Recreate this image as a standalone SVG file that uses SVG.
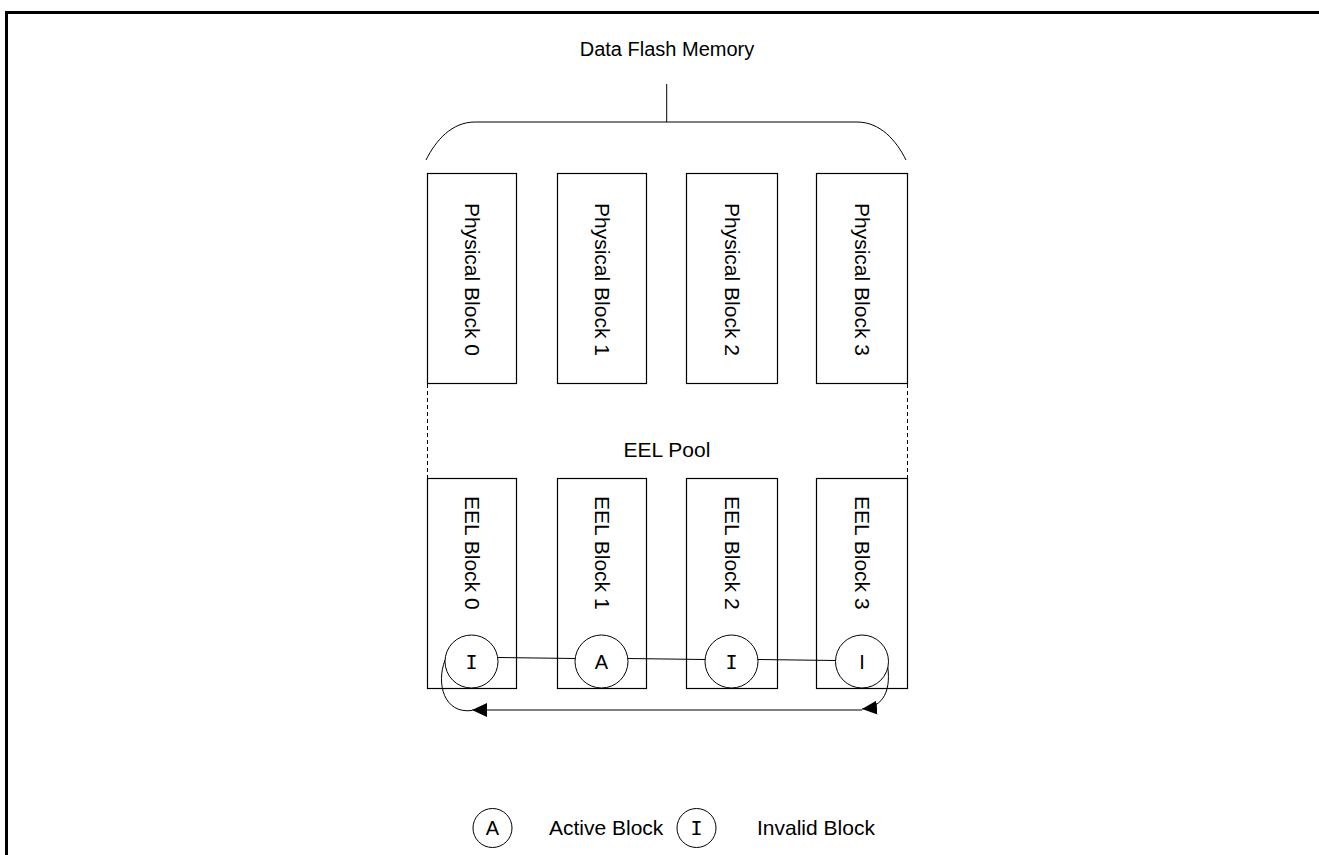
<svg xmlns="http://www.w3.org/2000/svg" width="1319" height="855" viewBox="0 0 1319 855">
<defs>
<style>
.box{fill:#fff;stroke:#000;stroke-width:1.2}
.ln{fill:none;stroke:#000;stroke-width:1}
.dash{fill:none;stroke:#000;stroke-width:1;stroke-dasharray:4 3}
.t{font-family:"Liberation Sans",Arial,sans-serif;font-size:21px;fill:#000}
.m{font-family:"DejaVu Sans Mono","Liberation Mono",monospace;font-size:20px;fill:#000}
.c{fill:#fff;stroke:#000;stroke-width:1}
</style>
<marker id="ah" markerUnits="userSpaceOnUse" markerWidth="16" markerHeight="14" viewBox="0 0 16 14" refX="15" refY="7" orient="auto">
<path d="M0,0 L15,7 L0,14 Z" fill="#000"/>
</marker>
</defs>
<rect x="6.5" y="12.5" width="1340" height="870" fill="none" stroke="#000" stroke-width="3"/>

<g id="title">
<text class="t" x="667" y="56" text-anchor="middle" style="font-size:20px">Data Flash Memory</text>
</g>
<g id="brace">
<path class="ln" d="M666.7,84 L666.7,122 M426,160 C436,140 452,122 475,122 L857,122 C880,122 896,140 906,160"/>
</g>

<g id="pb0"><rect class="box" x="427.5" y="173.5" width="89" height="210"/><text class="t" transform="translate(465,203) rotate(90)">Physical Block 0</text></g>
<g id="pb1"><rect class="box" x="557.5" y="173.5" width="89" height="210"/><text class="t" transform="translate(595,203) rotate(90)">Physical Block 1</text></g>
<g id="pb2"><rect class="box" x="686.5" y="173.5" width="91" height="210"/><text class="t" transform="translate(725,203) rotate(90)">Physical Block 2</text></g>
<g id="pb3"><rect class="box" x="816.5" y="173.5" width="91" height="210"/><text class="t" transform="translate(855,203) rotate(90)">Physical Block 3</text></g>

<g id="pool">
<path class="dash" d="M427.5,384 L427.5,478 M907.5,384 L907.5,478"/>
<text class="t" x="667" y="457" text-anchor="middle">EEL Pool</text>
</g>

<g id="eb0"><rect class="box" x="427.5" y="478.5" width="89" height="210"/><text class="t" transform="translate(465,496) rotate(90)">EEL Block 0</text></g>
<g id="eb1"><rect class="box" x="557.5" y="478.5" width="89" height="210"/><text class="t" transform="translate(595,496) rotate(90)">EEL Block 1</text></g>
<g id="eb2"><rect class="box" x="686.5" y="478.5" width="91" height="210"/><text class="t" transform="translate(725,496) rotate(90)">EEL Block 2</text></g>
<g id="eb3"><rect class="box" x="816.5" y="478.5" width="91" height="210"/><text class="t" transform="translate(855,496) rotate(90)">EEL Block 3</text></g>

<g id="connectors">
<path class="ln" d="M498,657.5 L575,658.5"/>
<path class="ln" d="M628,658.5 L705,659.5"/>
<path class="ln" d="M758,659.5 L836,660.5"/>
<path class="ln" d="M887,662 C892,690 884,707 862,709" marker-end="url(#ah)"/>
<path class="ln" d="M862,710 L472,710" marker-end="url(#ah)"/>
<path class="ln" d="M472,710.5 C444,714 436,684 445,660"/>
</g>

<g id="s0"><circle class="c" cx="471.5" cy="661.5" r="26.5"/><text class="m" x="471.5" y="669" text-anchor="middle">I</text></g>
<g id="s1"><circle class="c" cx="601.5" cy="661.5" r="26.5"/><text class="t" x="601.5" y="669" text-anchor="middle" style="font-size:20px">A</text></g>
<g id="s2"><circle class="c" cx="731.5" cy="661.5" r="26.5"/><text class="m" x="731.5" y="669" text-anchor="middle">I</text></g>
<g id="s3"><circle class="c" cx="862" cy="661.5" r="26.5"/><text class="t" x="862" y="669" text-anchor="middle" style="font-size:20px">I</text></g>

<g id="legend-active"><circle class="c" cx="492.5" cy="828" r="19.5"/><text class="t" x="492.5" y="835" text-anchor="middle" style="font-size:20px">A</text><text class="t" x="549" y="835">Active Block</text></g>
<g id="legend-invalid"><circle class="c" cx="696.5" cy="828" r="19.5"/><text class="m" x="696.5" y="835" text-anchor="middle">I</text><text class="t" x="757" y="835">Invalid Block</text></g>
</svg>
